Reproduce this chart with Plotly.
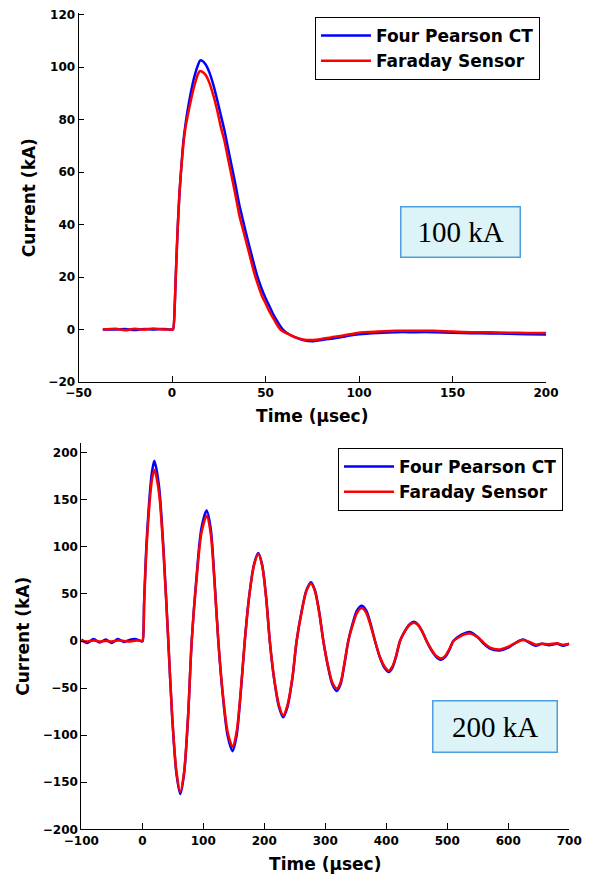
import plotly.graph_objects as go

# ---------------- Data: 100 kA test ----------------
top_t = [-37, -30, -25, -20, -15, -10, -5, -1, 0.5, 1.5, 2, 3, 4, 5, 6, 7, 8, 10, 12, 14, 15, 16, 18,
         20, 22, 24, 26, 28, 30, 32, 34, 36, 38, 40, 42, 44, 46, 48, 50, 52, 54, 56, 58, 60, 63, 66,
         70, 75, 80, 85, 90, 95, 100, 110, 120, 130, 140, 150, 160, 170, 180, 190, 200]
top_pearson = [0, 0, 0.2, -0.2, 0.2, 0, 0.2, 0, 0, 10, 20, 38, 52, 62, 71, 77, 82, 90, 96.5, 101, 102.5,
               102.5, 101, 98, 93.5, 88, 82, 76, 69, 62, 55, 47.5, 41.5, 35.5, 30, 24.5, 19.5, 15.5,
               12, 9, 6, 3.5, 1.2, -0.5, -2, -3, -4, -4.5, -4, -3.5, -3, -2.3, -1.8, -1.3, -1, -1, -1,
               -1.2, -1.4, -1.5, -1.6, -1.8, -1.9]
top_faraday = [0, 0.3, -0.3, 0.3, 0, 0.4, 0, 0, 0, 10, 20, 38, 52, 62, 70, 76, 80, 87, 93, 97.5, 98.5,
               98.3, 97, 94, 89.5, 84, 77.5, 72, 65, 58, 51, 43.5, 38, 32.5, 27, 21.5, 17, 13, 10, 7,
               4.5, 2, 0, -1, -2, -3, -3.8, -4, -3.6, -3, -2.5, -1.8, -1.2, -0.8, -0.5, -0.5, -0.5,
               -0.8, -1, -1, -1.2, -1.3, -1.3]

# ---------------- Data: 200 kA test ----------------
bot_t = [-100, -90, -80, -70, -60, -50, -40, -30, -20, -10, -1,
         0.5, 3, 5, 7, 10, 13, 16, 19.7,
         27.3, 35, 42.6, 49, 56, 62.3, 68.5, 75, 81,
         89, 97, 105.5, 112, 118, 124.6, 132, 140, 148, 154.5, 161, 168,
         175, 183, 190, 196.5, 203, 209, 216, 224, 231, 238, 246, 253,
         261, 269, 276.6, 283, 290, 296.8, 304, 311.5, 318.7, 325, 331, 337.7,
         345, 352, 359.7, 367, 374, 381.5, 389, 397, 404, 410, 416, 422.5,
         430, 438, 445.4, 452, 459, 466, 474, 482, 490, 496.5, 503, 510,
         519, 528, 537, 550, 560, 570, 586, 600, 612, 624, 635, 645, 655, 667, 680, 690, 700]
bot_pearson = [1.5, -2, 2, -1.5, 1.5, -2, 2, -1, 1.5, 2, -0.5,
               0, 42, 76, 105, 136, 162, 180, 191.5,
               165, 95, 0, -81, -141, -162.5, -141, -81, 0,
               69, 120, 138.5, 120, 69, 0, -58, -101, -117, -101, -58, 0,
               46.5, 81, 93.5, 81, 46.5, 0, -40, -70, -81, -70, -40, 0,
               31, 54, 62.5, 54, 31, 0, -26, -46, -53, -46, -26, 0,
               19, 32.5, 37.5, 32.5, 19, 0, -16.5, -28.5, -33, -28.5, -16.5, 0,
               10, 17.5, 20.5, 17.5, 10, 0, -10, -17, -20, -17, -10, 0,
               5, 8, 9.5, 4, -3, -8, -10, -7, -2, 1.5, -2, -5, -3, -4.5, -3, -5, -3]
bot_faraday = [0, -0.5, 0.5, -0.5, 0, -0.5, 0.5, 0, -0.5, 0.5, 0,
               0, 40, 72, 100, 130, 155, 172, 182,
               158, 91, 0, -80, -139, -160, -139, -80, 0,
               66, 115, 133, 115, 66, 0, -56, -97, -112.5, -97, -56, 0,
               46, 80, 92.5, 80, 46, 0, -39, -68, -79, -68, -39, 0,
               30, 53, 61, 53, 30, 0, -25, -44, -50.5, -44, -25, 0,
               17, 30, 35, 30, 17, 0, -16, -27, -31.5, -27, -16, 0,
               10, 17, 19.5, 17, 10, 0, -9, -16, -18.5, -16, -9, 0,
               4, 7, 8, 4, -2, -7, -9, -6, -2, 1, -1, -4, -3, -3.5, -2.5, -4, -3]

series_names = ["Four Pearson CT", "Faraday Sensor"]
series_colors = ["#0000ff", "#ff0000"]
y_title = "Current (kA)"
x_title = "Time (μsec)"
top_x_ticks = [-50, 0, 50, 100, 150, 200]
top_y_ticks = [-20, 0, 20, 40, 60, 80, 100, 120]
bot_x_ticks = [-100, 0, 100, 200, 300, 400, 500, 600, 700]
bot_y_ticks = [-200, -150, -100, -50, 0, 50, 100, 150, 200]

FONT = "DejaVu Sans"
W, H = 595, 880

fig = go.Figure()
for vals, name, col in zip([top_pearson, top_faraday], series_names, series_colors):
    fig.add_trace(go.Scatter(x=top_t, y=vals, name=name, mode="lines",
                             line=dict(color=col, width=2.5, shape="spline", smoothing=0.6),
                             xaxis="x", yaxis="y", legend="legend"))
for vals, name, col in zip([bot_pearson, bot_faraday], series_names, series_colors):
    fig.add_trace(go.Scatter(x=bot_t, y=vals, name=name, mode="lines",
                             line=dict(color=col, width=2.5, shape="spline", smoothing=0.8),
                             xaxis="x2", yaxis="y2", legend="legend2"))

tickfont = dict(family=FONT, size=12, color="black", weight="bold")
titlefont = dict(family=FONT, size=17, color="black", weight="bold")
common = dict(showline=True, linecolor="black", linewidth=1, showgrid=False, zeroline=False,
              ticks="inside", tickcolor="black", tickwidth=1, tickfont=tickfont, mirror=False,
              automargin=False)

legend_font = dict(family=FONT, size=17, color="black", weight="bold")

fig.update_layout(
    width=W, height=H, autosize=False,
    margin=dict(l=0, r=0, t=0, b=0),
    paper_bgcolor="white", plot_bgcolor="white",
    showlegend=True,
    xaxis=dict(domain=[78.5 / W, 546 / W], range=[-50, 200], tickvals=top_x_ticks, ticklen=6,
               anchor="y", title=dict(text=x_title, font=titlefont, standoff=10), **common),
    yaxis=dict(domain=[1 - 382 / H, 1 - 13.3 / H], range=[-20, 120.5], tickvals=top_y_ticks, ticklen=5,
               anchor="x", title=dict(text=y_title, font=titlefont, standoff=8), **common),
    xaxis2=dict(domain=[81.3 / W, 569.3 / W], range=[-100, 700], tickvals=bot_x_ticks, ticklen=6,
                anchor="y2", title=dict(text=x_title, font=titlefont, standoff=11), **common),
    yaxis2=dict(domain=[1 - 829.3 / H, 1 - 443.3 / H], range=[-200, 210], tickvals=bot_y_ticks, ticklen=6,
                anchor="x2", title=dict(text=y_title, font=titlefont, standoff=8), **common),
    legend=dict(x=540 / W, y=1 - 17 / H, xanchor="right", yanchor="top", bgcolor="white",
                bordercolor="black", borderwidth=1, itemwidth=50,
                font=legend_font, tracegroupgap=0),
    legend2=dict(x=563 / W, y=1 - 448 / H, xanchor="right", yanchor="top", bgcolor="white",
                 bordercolor="black", borderwidth=1, itemwidth=50,
                 font=legend_font, tracegroupgap=0),
)

box_font = dict(family="Liberation Serif", size=29, color="black")
fig.add_annotation(text="100 kA", xref="paper", yref="paper", x=460 / W, y=1 - 232.5 / H,
                   xanchor="center", yanchor="middle", showarrow=False, font=box_font,
                   bgcolor="#dcf3f8", bordercolor="#4f9fdc", borderwidth=1.5,
                   width=116, height=47)
fig.add_annotation(text="200 kA", xref="paper", yref="paper", x=494.5 / W, y=1 - 726 / H,
                   xanchor="center", yanchor="middle", showarrow=False, font=box_font,
                   bgcolor="#dcf3f8", bordercolor="#4f9fdc", borderwidth=1.5,
                   width=121, height=48)

fig.write_html("out.html")
